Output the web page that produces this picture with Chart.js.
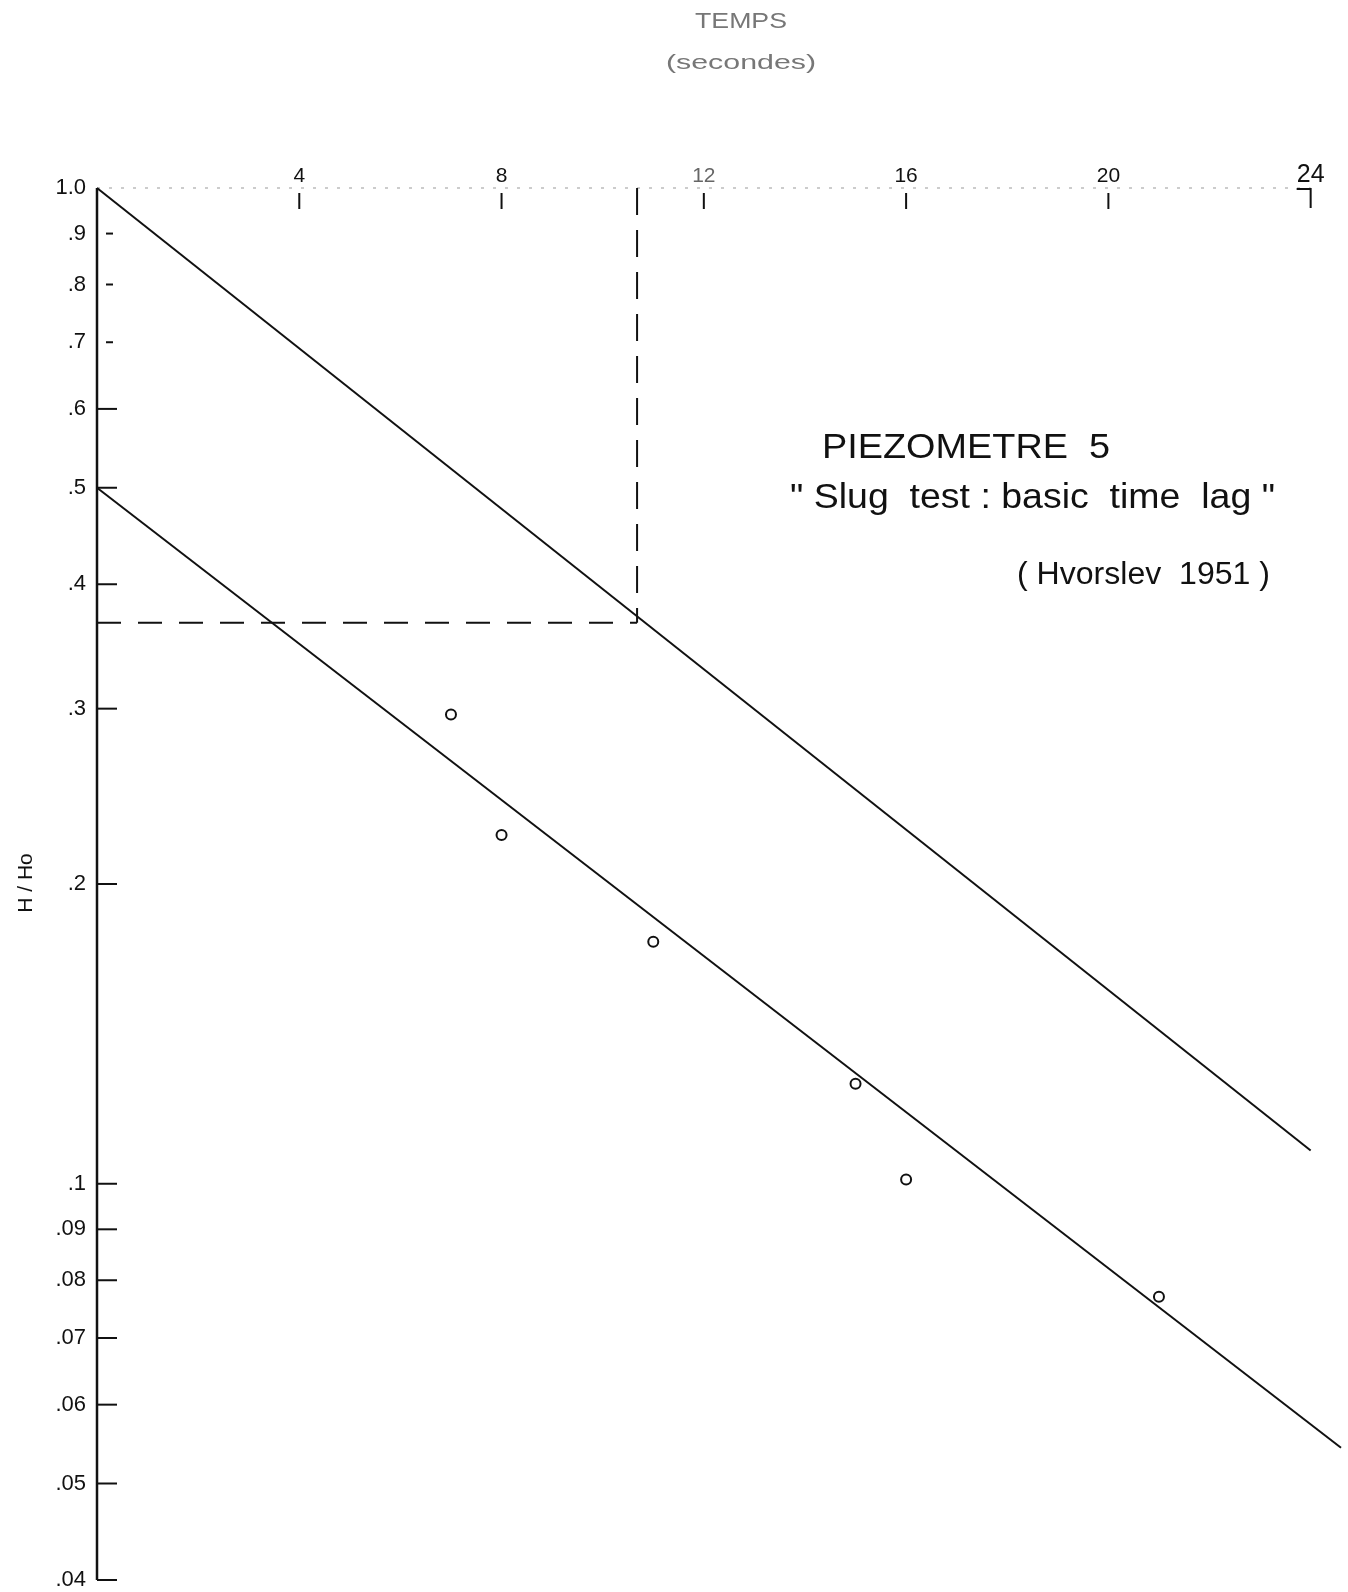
<!DOCTYPE html>
<html>
<head>
<meta charset="utf-8">
<title>Piezometre 5 - slug test</title>
<script src="https://cdn.jsdelivr.net/npm/chart.js@4.4.1/dist/chart.umd.min.js"></script>
<style>
  html, body { margin: 0; padding: 0; background: #fff; }
  #wrap { position: relative; width: 1348px; height: 1592px; }
</style>
</head>
<body>
<div id="wrap"><canvas id="slug" width="1348" height="1592"></canvas></div>
<script>
  // --- data ---
  const xTicks = [4, 8, 12, 16, 20, 24];
  const xTickLabels = ['4', '8', '12', '16', '20', '24'];
  const yTicks = [1.0, 0.9, 0.8, 0.7, 0.6, 0.5, 0.4, 0.3, 0.2, 0.1, 0.09, 0.08, 0.07, 0.06, 0.05, 0.04];
  const yTickLabels = ['1.0', '.9', '.8', '.7', '.6', '.5', '.4', '.3', '.2', '.1', '.09', '.08', '.07', '.06', '.05', '.04'];

  // measured H/Ho against time (secondes)
  const obsTime = [7, 8, 11, 15, 16, 21];
  const obsRatio = [0.296, 0.224, 0.175, 0.126, 0.101, 0.077];

  // fitted straight lines on the semi-log paper
  const upperTime = [0, 24];
  const upperRatio = [1.0, 0.108];
  const lowerTime = [0, 24.6];
  const lowerRatio = [0.5, 0.0543];

  // basic time lag construction (H/Ho = 0.37)
  const lagTime = 10.68;
  const lagRatio = 0.366;

  const X_MAX = 24.6;
  const Y_MIN = 0.04, Y_MAX = 1.0;
  const INK = '#111';
  const FONT = '"Liberation Sans", "DejaVu Sans", sans-serif';

  const pts = (xs, ys) => xs.map((x, i) => ({ x: x, y: ys[i] }));

  // draw text stretched to a given width (the lettering on the plate is narrow)
  function fitText(ctx, text, x, y, width, size, align) {
    ctx.save();
    ctx.font = size + 'px ' + FONT;
    const w = ctx.measureText(text).width;
    const k = width / w;
    ctx.translate(align === 'center' ? x - width / 2 : x, y);
    ctx.scale(k, 1);
    ctx.textAlign = 'left';
    ctx.fillText(text, 0, 0);
    ctx.restore();
  }

  // ========================================
  // Axes, ticks and annotations (hand-drawn look)
  // ========================================
  const paperAxes = {
    id: 'paperAxes',
    beforeDatasetsDraw(chart) {
      const ctx = chart.ctx;
      const xs = chart.scales.x, ys = chart.scales.y;
      const x0 = xs.getPixelForValue(0);
      const yTop = ys.getPixelForValue(Y_MAX);
      const yBot = ys.getPixelForValue(Y_MIN);

      ctx.save();
      ctx.strokeStyle = INK;
      ctx.fillStyle = INK;

      // left axis (H/Ho)
      ctx.lineWidth = 2.5;
      ctx.beginPath();
      ctx.moveTo(x0, yTop);
      ctx.lineTo(x0, yBot);
      ctx.stroke();

      ctx.lineWidth = 2;
      ctx.font = '22px ' + FONT;
      ctx.textAlign = 'right';
      ctx.textBaseline = 'middle';
      yTicks.forEach((v, i) => {
        const py = ys.getPixelForValue(v);
        if (i > 0) {
          // the upper ticks on the plate are short, detached dashes
          const short = v >= 0.7;
          ctx.beginPath();
          ctx.moveTo(x0 + (short ? 9 : 0), py);
          ctx.lineTo(x0 + (short ? 16 : 20), py);
          ctx.stroke();
        }
        ctx.fillText(yTickLabels[i], x0 - 11, py);
      });

      // top axis (temps): faint dotted line
      const x24 = xs.getPixelForValue(24);
      ctx.save();
      ctx.strokeStyle = '#999';
      ctx.lineWidth = 1.2;
      ctx.setLineDash([3, 9]);
      ctx.beginPath();
      ctx.moveTo(x0, yTop);
      ctx.lineTo(x24, yTop);
      ctx.stroke();
      ctx.restore();

      ctx.lineWidth = 2;
      ctx.textAlign = 'center';
      ctx.textBaseline = 'alphabetic';
      xTicks.forEach((t, i) => {
        const px = xs.getPixelForValue(t);
        ctx.beginPath();
        if (t === 24) {
          ctx.moveTo(px - 14, yTop + 1);
          ctx.lineTo(px, yTop + 1);
          ctx.lineTo(px, yTop + 20);
        } else {
          ctx.moveTo(px, yTop + 5);
          ctx.lineTo(px, yTop + 21);
        }
        ctx.stroke();
        ctx.font = (t === 24 ? 25 : 21) + 'px ' + FONT;
        ctx.fillStyle = t === 12 ? '#666' : INK;
        ctx.fillText(xTickLabels[i], px, yTop - 6);
      });

      // axis titles
      ctx.fillStyle = '#777';
      ctx.textBaseline = 'middle';
      fitText(ctx, 'TEMPS', 741, 22, 92, 22, 'center');
      fitText(ctx, '(secondes)', 741, 63, 150, 20, 'center');

      ctx.fillStyle = INK;
      ctx.save();
      ctx.translate(26, 883);
      ctx.rotate(-Math.PI / 2);
      ctx.font = '21px ' + FONT;
      ctx.textAlign = 'center';
      ctx.textBaseline = 'middle';
      ctx.fillText('H / Ho', 0, 0);
      ctx.restore();

      // plate title
      ctx.textBaseline = 'alphabetic';
      fitText(ctx, 'PIEZOMETRE  5', 822, 458, 288, 35, 'left');
      fitText(ctx, '" Slug  test : basic  time  lag "', 790, 508, 485, 35, 'left');
      fitText(ctx, '( Hvorslev  1951 )', 1017, 584, 253, 31, 'left');

      ctx.restore();
    }
  };

  const lineStyle = {
    showLine: true,
    pointRadius: 0,
    borderColor: INK,
    borderWidth: 2,
    clip: false
  };

  new Chart(document.getElementById('slug'), {
    type: 'scatter',
    data: {
      datasets: [
        Object.assign({ label: 'upper', data: pts(upperTime, upperRatio) }, lineStyle),
        Object.assign({ label: 'lower', data: pts(lowerTime, lowerRatio) }, lineStyle),
        Object.assign({ label: 'lag-v', data: [{ x: lagTime, y: Y_MAX }, { x: lagTime, y: lagRatio }], borderDash: [27, 15] }, lineStyle),
        Object.assign({ label: 'lag-h', data: [{ x: 0, y: lagRatio }, { x: lagTime, y: lagRatio }], borderDash: [24, 17] }, lineStyle),
        {
          label: 'mesures',
          data: pts(obsTime, obsRatio),
          pointStyle: 'circle',
          pointRadius: 5,
          pointBorderWidth: 2,
          pointBorderColor: INK,
          pointBackgroundColor: '#fff',
          showLine: false,
          clip: false
        }
      ]
    },
    options: {
      responsive: false,
      animation: false,
      devicePixelRatio: 1,
      layout: { padding: { left: 97, right: 0, top: 188, bottom: 12 } },
      plugins: {
        legend: { display: false },
        tooltip: { enabled: false }
      },
      scales: {
        x: { type: 'linear', min: 0, max: X_MAX, display: false },
        y: { type: 'logarithmic', min: Y_MIN, max: Y_MAX, display: false }
      }
    },
    plugins: [paperAxes]
  });
</script>
</body>
</html>
